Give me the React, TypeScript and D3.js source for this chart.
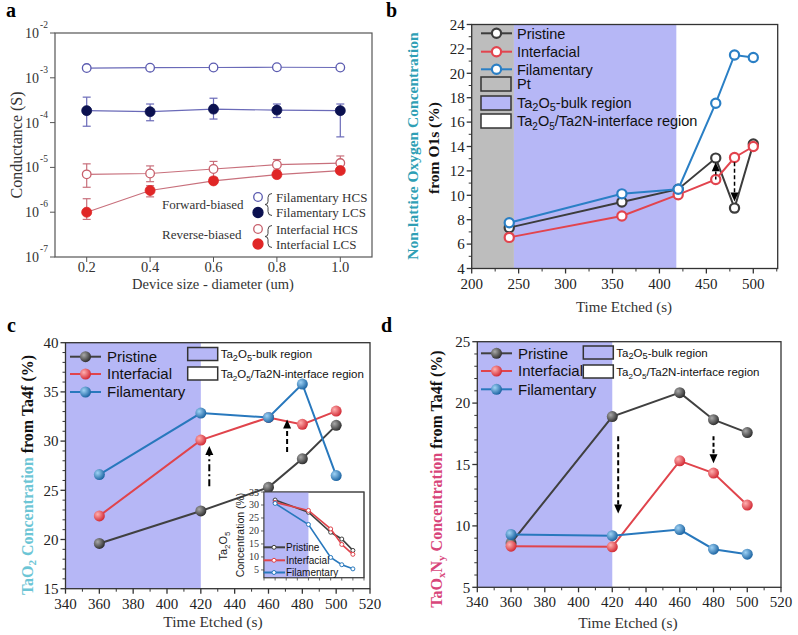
import React from "react";
import * as d3 from "d3";

// ---------------- Panel a data ----------------
const sizes = [0.2, 0.4, 0.6, 0.8, 1.0];
const filamentaryHCS = [1.65e-3, 1.68e-3, 1.7e-3, 1.72e-3, 1.7e-3];
const filamentaryLCS = [1.85e-4, 1.75e-4, 2.0e-4, 1.9e-4, 1.85e-4];
const filamentaryLCSLow = [8.3e-5, 1.1e-4, 1.2e-4, 1.3e-4, 4.8e-5];
const filamentaryLCSHigh = [3.7e-4, 2.6e-4, 3.5e-4, 2.6e-4, 2.6e-4];
const interfacialHCS = [7.0e-6, 7.3e-6, 9.2e-6, 1.15e-5, 1.25e-5];
const interfacialHCSLow = [3.6e-6, 4.8e-6, 6.0e-6, 8.7e-6, 9.0e-6];
const interfacialHCSHigh = [1.2e-5, 1.08e-5, 1.36e-5, 1.5e-5, 1.8e-5];
const interfacialLCS = [1.0e-6, 3.05e-6, 5.0e-6, 6.9e-6, 8.5e-6];
const interfacialLCSLow = [6.9e-7, 2.2e-6, 4.4e-6, 6.0e-6, 7.3e-6];
const interfacialLCSHigh = [2.0e-6, 3.9e-6, 5.7e-6, 7.8e-6, 9.8e-6];
const logTicks = [1e-7, 1e-6, 1e-5, 1e-4, 1e-3, 1e-2];
const logTickExp = ["-7", "-6", "-5", "-4", "-3", "-2"];
const sizeTicks = [0.2, 0.4, 0.6, 0.8, 1.0];

// ---------------- Panel b data ----------------
const timesB = [240, 360, 420, 460, 480, 500];
const pristineB = [7.35, 9.45, 10.5, 13.05, 8.95, 14.2];
const interfacialB = [6.55, 8.3, 10.05, 11.3, 13.1, 14.0];
const filamentaryB = [7.75, 10.12, 10.5, 17.55, 21.5, 21.3];
const ptRegionB = [200, 245];
const bulkRegionB = [245, 418];
const xTicksB = [200, 250, 300, 350, 400, 450, 500];
const yTicksB = [4, 6, 8, 10, 12, 14, 16, 18, 20, 22, 24];

// ---------------- Panel c data ----------------
const timesCD = [360, 420, 460, 480, 500];
const pristineC = [19.6, 22.9, 25.3, 28.2, 31.6];
const interfacialC = [22.4, 30.1, 32.4, 31.7, 33.05];
const filamentaryC = [26.6, 32.85, 32.4, 35.8, 26.5];
const bulkRegionCD = [340, 420];
const xTicksCD = [340, 360, 380, 400, 420, 440, 460, 480, 500, 520];
const yTicksC = [15, 20, 25, 30, 35, 40];
// inset (Ta2O5 concentration)
const pristineInset = [31.9, 27.2, 19.5, 16.9, 12.5];
const interfacialInset = [31.0, 27.9, 20.8, 14.8, 11.0];
const filamentaryInset = [30.6, 22.5, 9.8, 7.0, 5.4];
const yTicksInset = [5, 10, 15, 20, 25, 30, 35];

// ---------------- Panel d data ----------------
const pristineD = [8.6, 18.9, 20.85, 18.65, 17.6];
const interfacialD = [8.35, 8.3, 15.3, 14.3, 11.7];
const filamentaryD = [9.3, 9.2, 9.7, 8.1, 7.7];
const yTicksD = [5, 10, 15, 20, 25];

const serif = "'Liberation Serif','Times New Roman',serif";
const sans = "'Liberation Sans',Arial,sans-serif";
const LAV = "#b6b7f6";
const GRAY = "#bdbdbd";

const colB = { p: "#3c3c3c", i: "#e2444e", f: "#2a7fc5" };
const colC = { p: "#404040", i: "#e0444c", f: "#2878bd" };

function Arrow({ x, y1, y2, dash, w = 1.8 }: any) {
  const dir = y2 < y1 ? -1 : 1;
  const hl = 9, hw = 4;
  const base = y2 - dir * hl;
  return (
    <g>
      <line x1={x} x2={x} y1={y1} y2={base} stroke="#000" strokeWidth={w} strokeDasharray={dash} />
      <polygon points={`${x},${y2} ${x - hw},${base} ${x + hw},${base}`} fill="#000" />
    </g>
  );
}

function Frame({ xs, ys, xTicks, xMinor, yTicks, yMinor, fs, xLabOff, yLabOff, fmtX, fmtY }: any) {
  const [x0, x1] = xs.range();
  const [y0, y1] = ys.range();
  return (
    <g fontFamily={serif} fontSize={fs} fill="#222">
      <rect x={x0} y={y1} width={x1 - x0} height={y0 - y1} fill="none" stroke="#333" strokeWidth={1.3} />
      {xMinor.map((t: number) => (
        <line key={"xm" + t} x1={xs(t)} x2={xs(t)} y1={y0} y2={y0 + 3} stroke="#333" strokeWidth={1} />
      ))}
      {yMinor.map((t: number) => (
        <line key={"ym" + t} x1={x0} x2={x0 - 3} y1={ys(t)} y2={ys(t)} stroke="#333" strokeWidth={1} />
      ))}
      {xTicks.map((t: number) => (
        <g key={"xt" + t}>
          <line x1={xs(t)} x2={xs(t)} y1={y0} y2={y0 + 5} stroke="#333" strokeWidth={1.3} />
          <text x={xs(t)} y={y0 + xLabOff} textAnchor="middle">{fmtX ? fmtX(t) : t}</text>
        </g>
      ))}
      {yTicks.map((t: number) => (
        <g key={"yt" + t}>
          <line x1={x0} x2={x0 - 5} y1={ys(t)} y2={ys(t)} stroke="#333" strokeWidth={1.3} />
          <text x={x0 - yLabOff} y={ys(t)} dy="0.35em" textAnchor="end">{fmtY ? fmtY(t) : t}</text>
        </g>
      ))}
    </g>
  );
}

function range(a: number, b: number, s: number) {
  return d3.range(a, b + s / 2, s);
}

function PanelA() {
  const xs = d3.scaleLinear().domain([0.1, 1.1]).range([55, 372]);
  const ys = d3.scaleLog().domain([1e-7, 1e-2]).range([257, 33]);
  const line = d3.line<[number, number]>().x((d) => xs(d[0])).y((d) => ys(d[1]));
  const fCol = "#6a6ab8", iCol = "#c8707c";
  const series = [
    { v: filamentaryHCS, lc: fCol, open: true, mc: "#5b5bb0" },
    { v: filamentaryLCS, lc: fCol, open: false, mc: "#0b1150", lo: filamentaryLCSLow, hi: filamentaryLCSHigh },
    { v: interfacialHCS, lc: iCol, open: true, mc: "#c8606c", lo: interfacialHCSLow, hi: interfacialHCSHigh },
    { v: interfacialLCS, lc: iCol, open: false, mc: "#e02626", lo: interfacialLCSLow, hi: interfacialLCSHigh },
  ];
  const [x0, x1] = xs.range();
  const legend = [
    { t: "Filamentary HCS", open: true, mc: "#5b5bb0", y: 197 },
    { t: "Filamentary LCS", open: false, mc: "#0b1150", y: 212.5 },
    { t: "Interfacial HCS", open: true, mc: "#c8606c", y: 229 },
    { t: "Interfacial LCS", open: false, mc: "#e02626", y: 244 },
  ];
  const brace = (yc: number, h: number) => {
    const x = 268, t = yc - h / 2, b = yc + h / 2;
    return `M${x + 4},${t} Q${x},${t} ${x},${t + 4} L${x},${yc - 3} Q${x},${yc} ${x - 3},${yc} Q${x},${yc} ${x},${yc + 3} L${x},${b - 4} Q${x},${b} ${x + 4},${b}`;
  };
  return (
    <g>
      <text x={6} y={17} fontFamily={serif} fontWeight="bold" fontSize={20}>a</text>
      <rect x={x0} y={33} width={x1 - x0} height={224} fill="none" stroke="#555" strokeWidth={1.2} />
      {logTicks.map((t, k) => (
        <g key={"lt" + t} fontFamily={serif} fontSize={14}>
          <line x1={x0} x2={x0 - 5} y1={ys(t)} y2={ys(t)} stroke="#555" />
          <text x={x0 - 16} y={ys(t)} dy="0.35em" textAnchor="end" fill="#333">10</text>
          <text x={x0 - 15} y={ys(t) - 5} fontSize={9.5} textAnchor="start" fill="#333">{logTickExp[k]}</text>
        </g>
      ))}
      {sizeTicks.map((t) => (
        <g key={"st" + t} fontFamily={serif} fontSize={14.5}>
          <line x1={xs(t)} x2={xs(t)} y1={257} y2={262} stroke="#555" />
          <text x={xs(t)} y={272} textAnchor="middle" fill="#333">{t.toFixed(1)}</text>
        </g>
      ))}
      <text transform="translate(22,145) rotate(-90)" textAnchor="middle" fontFamily={serif} fontSize={16} fill="#333">Conductance (S)</text>
      <text x={213} y={289} textAnchor="middle" fontFamily={serif} fontSize={14.5} fill="#333">Device size - diameter (um)</text>
      {series.map((s, k) => (
        <g key={"sa" + k}>
          <path d={line(sizes.map((x, i) => [x, s.v[i]]) as any) || ""} fill="none" stroke={s.lc} strokeWidth={1.2} />
          {s.lo && sizes.map((x, i) => (
            <g key={"eb" + i} stroke={s.lc} strokeWidth={1.2}>
              <line x1={xs(x)} x2={xs(x)} y1={ys(s.lo![i])} y2={ys(s.hi![i])} />
              <line x1={xs(x) - 4} x2={xs(x) + 4} y1={ys(s.lo![i])} y2={ys(s.lo![i])} />
              <line x1={xs(x) - 4} x2={xs(x) + 4} y1={ys(s.hi![i])} y2={ys(s.hi![i])} />
            </g>
          ))}
          {sizes.map((x, i) => (
            <circle key={"m" + i} cx={xs(x)} cy={ys(s.v[i])} r={s.open ? 4.3 : 5}
              fill={s.open ? "#fff" : s.mc} stroke={s.mc} strokeWidth={s.open ? 1.3 : 0.8} />
          ))}
        </g>
      ))}
      {legend.map((l) => (
        <g key={l.t}>
          <circle cx={258} cy={l.y} r={l.open ? 4.3 : 5} fill={l.open ? "#fff" : l.mc} stroke={l.mc} strokeWidth={1.3} />
          <text x={276} y={l.y} dy="0.35em" fontFamily={serif} fontSize={13} fill="#333">{l.t}</text>
        </g>
      ))}
      <path d={brace(204.5, 22)} fill="none" stroke="#444" strokeWidth={1} />
      <path d={brace(236.5, 22)} fill="none" stroke="#444" strokeWidth={1} />
      <text x={162} y={204.5} dy="0.35em" fontFamily={serif} fontSize={13} fill="#333">Forward-biased</text>
      <text x={162} y={234.5} dy="0.35em" fontFamily={serif} fontSize={13} fill="#333">Reverse-biased</text>
    </g>
  );
}

function PanelB() {
  const xs = d3.scaleLinear().domain([200, 526]).range([471.7, 777.7]);
  const ys = d3.scaleLinear().domain([4, 24]).range([268.5, 24.5]);
  const line = d3.line<number>().x((_, i) => xs(timesB[i])).y((d) => ys(d));
  const [y0, y1] = ys.range();
  const series = [
    { v: pristineB, c: colB.p, n: "Pristine" },
    { v: interfacialB, c: colB.i, n: "Interfacial" },
    { v: filamentaryB, c: colB.f, n: "Filamentary" },
  ];
  const legY = [33.3, 51.7, 69.3];
  const boxes = [
    { fill: GRAY, y: 84 },
    { fill: LAV, y: 103 },
    { fill: "#fff", y: 121 },
  ];
  return (
    <g>
      <text x={386} y={17} fontFamily={serif} fontWeight="bold" fontSize={20}>b</text>
      <rect x={xs(ptRegionB[0])} y={y1} width={xs(ptRegionB[1]) - xs(ptRegionB[0])} height={y0 - y1} fill={GRAY} />
      <rect x={xs(bulkRegionB[0])} y={y1} width={xs(bulkRegionB[1]) - xs(bulkRegionB[0])} height={y0 - y1} fill={LAV} />
      <Frame xs={xs} ys={ys} xTicks={xTicksB} xMinor={range(225, 525, 50)} yTicks={yTicksB} yMinor={range(5, 23, 2)}
        fs={15} xLabOff={20} yLabOff={7} />
      {series.map((s) => (
        <g key={s.n}>
          <path d={line(s.v) || ""} fill="none" stroke={s.c} strokeWidth={2} />
          {s.v.map((v, i) => (
            <circle key={i} cx={xs(timesB[i])} cy={ys(v)} r={4.6} fill="#fff" stroke={s.c} strokeWidth={2.2} />
          ))}
        </g>
      ))}
      <Arrow x={xs(460)} y1={ys(11.3)} y2={ys(12.7)} dash="3,2" w={1.5} />
      <Arrow x={xs(480)} y1={ys(12.7)} y2={ys(9.5)} dash="4,2.5" w={1.5} />
      {series.map((s, k) => (
        <g key={"lg" + s.n}>
          <line x1={481} x2={512} y1={legY[k]} y2={legY[k]} stroke={s.c} strokeWidth={2} />
          <circle cx={496.5} cy={legY[k]} r={4.6} fill="#fff" stroke={s.c} strokeWidth={2.2} />
          <text x={517} y={legY[k]} dy="0.36em" fontFamily={sans} fontSize={14.5} fill="#111">{s.n}</text>
        </g>
      ))}
      {boxes.map((b, k) => (
        <rect key={"bx" + k} x={481} y={b.y - 7} width={30} height={14} fill={b.fill} stroke="#333" strokeWidth={1.5} />
      ))}
      <g fontFamily={sans} fontSize={14.5} fill="#111">
        <text x={517} y={84} dy="0.36em">Pt</text>
        <text x={517} y={103} dy="0.36em">Ta<tspan fontSize={11} dy={3}>2</tspan><tspan dy={-3}>O</tspan><tspan fontSize={11} dy={3}>5</tspan><tspan dy={-3}>-bulk region</tspan></text>
        <text x={517} y={121} dy="0.36em">Ta<tspan fontSize={10} dy={4}>2</tspan><tspan dy={-4}>O</tspan><tspan fontSize={10} dy={4}>5</tspan><tspan dy={-4}>/Ta2N-interface region</tspan></text>
      </g>
      <text transform="translate(418,146) rotate(-90)" textAnchor="middle" fontFamily={serif} fontWeight="bold" fontSize={15.5} fill="#2f9fb5">Non-lattice Oxygen Concentration</text>
      <text transform="translate(439,148) rotate(-90)" textAnchor="middle" fontFamily={serif} fontWeight="bold" fontSize={15.5} fill="#111">from O1s (%)</text>
      <text x={624} y={312} textAnchor="middle" fontFamily={serif} fontSize={15} fill="#333">Time Etched (s)</text>
    </g>
  );
}

function Sphere({ cx, cy, k, r = 5.5 }: any) {
  return <circle cx={cx} cy={cy} r={r} fill={`url(#sph-${k})`} stroke="none" />;
}

function BoxLegend({ x, y1, y2, fs }: any) {
  return (
    <g>
      <rect x={x} y={y1 - 6.5} width={30} height={13} fill={LAV} stroke="#333" strokeWidth={1.5} />
      <rect x={x} y={y2 - 6.5} width={30} height={13} fill="#fff" stroke="#333" strokeWidth={1.5} />
      <g fontFamily={sans} fontSize={fs} fill="#111">
        <text x={x + 33} y={y1} dy="0.36em">Ta<tspan fontSize={fs * 0.8} dy={2.5}>2</tspan><tspan dy={-2.5}>O</tspan><tspan fontSize={fs * 0.8} dy={2.5}>5</tspan><tspan dy={-2.5}>-bulk region</tspan></text>
        <text x={x + 33} y={y2} dy="0.36em">Ta<tspan fontSize={fs * 0.7} dy={3}>2</tspan><tspan dy={-3}>O</tspan><tspan fontSize={fs * 0.7} dy={3}>5</tspan><tspan dy={-3}>/Ta2N-interface region</tspan></text>
      </g>
    </g>
  );
}

function SeriesLegend({ x, ys, fs }: any) {
  const items = [
    { n: "Pristine", c: colC.p, k: "p" },
    { n: "Interfacial", c: colC.i, k: "i" },
    { n: "Filamentary", c: colC.f, k: "f" },
  ];
  return (
    <g>
      {items.map((it, j) => (
        <g key={it.n}>
          <line x1={x} x2={x + 31} y1={ys[j]} y2={ys[j]} stroke={it.c} strokeWidth={2} />
          <Sphere cx={x + 15.5} cy={ys[j]} k={it.k} />
          <text x={x + 37} y={ys[j]} dy="0.36em" fontFamily={sans} fontSize={fs} fill="#111">{it.n}</text>
        </g>
      ))}
    </g>
  );
}

function PanelC() {
  const xs = d3.scaleLinear().domain([340, 520]).range([65.5, 370]);
  const ys = d3.scaleLinear().domain([15, 40]).range([588.7, 342.7]);
  const line = d3.line<number>().x((_, i) => xs(timesCD[i])).y((d) => ys(d));
  const [y0, y1] = ys.range();
  const series = [
    { v: pristineC, c: colC.p, k: "p" },
    { v: interfacialC, c: colC.i, k: "i" },
    { v: filamentaryC, c: colC.f, k: "f" },
  ];
  // inset
  const ixs = d3.scaleLinear().domain([340, 520]).range([264, 364]);
  const iys = d3.scaleLinear().domain([2, 35]).range([577.7, 492]);
  const iline = d3.line<number>().x((_, i) => ixs(timesCD[i])).y((d) => iys(d));
  const iSeries = [
    { v: pristineInset, c: colC.p, n: "Pristine" },
    { v: interfacialInset, c: colC.i, n: "Interfacial" },
    { v: filamentaryInset, c: colC.f, n: "Filamentary" },
  ];
  const iLegY = [547.3, 560.3, 572.5];
  return (
    <g>
      <text x={7} y={332} fontFamily={serif} fontWeight="bold" fontSize={20}>c</text>
      <rect x={xs(bulkRegionCD[0])} y={y1} width={xs(bulkRegionCD[1]) - xs(bulkRegionCD[0])} height={y0 - y1} fill={LAV} />
      <Frame xs={xs} ys={ys} xTicks={xTicksCD} xMinor={range(350, 510, 20)} yTicks={yTicksC} yMinor={range(16, 39, 1).filter((v) => v % 5 !== 0)}
        fs={15} xLabOff={20} yLabOff={7} />
      {series.map((s) => (
        <g key={s.k}>
          <path d={line(s.v) || ""} fill="none" stroke={s.c} strokeWidth={2} />
          {s.v.map((v, i) => <Sphere key={i} cx={xs(timesCD[i])} cy={ys(v)} k={s.k} />)}
        </g>
      ))}
      <Arrow x={xs(425)} y1={ys(25.4)} y2={ys(29.5)} dash="7,3,2,3" w={2} />
      <Arrow x={xs(471)} y1={ys(28.9)} y2={ys(32.2)} dash="5,3" w={2} />
      <SeriesLegend x={70} ys={[356.7, 374, 392]} fs={15} />
      <BoxLegend x={187.7} y1={354} y2={373.5} fs={11.5} />
      {/* inset */}
      <rect x={264} y={492} width={100} height={85.7} fill="#fff" stroke="#444" strokeWidth={1} />
      <rect x={ixs(bulkRegionCD[0])} y={492} width={ixs(bulkRegionCD[1]) - ixs(bulkRegionCD[0])} height={85.7} fill={LAV} />
      <rect x={264} y={492} width={100} height={85.7} fill="none" stroke="#444" strokeWidth={1} />
      {xTicksCD.map((t) => (
        <line key={"ix" + t} x1={ixs(t)} x2={ixs(t)} y1={577.7} y2={580.5} stroke="#444" strokeWidth={0.8} />
      ))}
      {yTicksInset.map((t) => (
        <g key={"iy" + t}>
          <line x1={264} x2={261} y1={iys(t)} y2={iys(t)} stroke="#444" strokeWidth={0.8} />
          <text x={259} y={iys(t)} dy="0.35em" textAnchor="end" fontFamily={serif} fontSize={10} fill="#333">{t}</text>
        </g>
      ))}
      {iSeries.map((s) => (
        <g key={"is" + s.n}>
          <path d={iline(s.v) || ""} fill="none" stroke={s.c} strokeWidth={1.6} />
          {s.v.map((v, i) => (
            <circle key={i} cx={ixs(timesCD[i])} cy={iys(v)} r={2} fill="#fff" stroke={s.c} strokeWidth={1} />
          ))}
        </g>
      ))}
      {iSeries.map((s, j) => (
        <g key={"il" + s.n}>
          <line x1={263.5} x2={285} y1={iLegY[j]} y2={iLegY[j]} stroke={s.c} strokeWidth={2} />
          <circle cx={274} cy={iLegY[j]} r={2} fill="#fff" stroke={s.c} strokeWidth={1} />
          <text x={286} y={iLegY[j]} dy="0.36em" fontFamily={sans} fontSize={10} fill="#111">{s.n}</text>
        </g>
      ))}
      <text transform="translate(227,546) rotate(-90)" textAnchor="middle" fontFamily={sans} fontSize={11} fill="#222">
        Ta<tspan fontSize={8} dy={2.5}>2</tspan><tspan dy={-2.5}>O</tspan><tspan fontSize={8} dy={2.5}>5</tspan>
      </text>
      <text transform="translate(244,535) rotate(-90)" textAnchor="middle" fontFamily={sans} fontSize={10.5} fill="#222">Concentration (%)</text>
      {/* axis labels */}
      <text transform="translate(33,475) rotate(-90)" textAnchor="middle" fontFamily={serif} fontWeight="bold" fontSize={16}>
        <tspan fill="#6cc5d5">TaO</tspan><tspan fill="#6cc5d5" fontSize={11} dy={3}>2</tspan><tspan fill="#6cc5d5" dy={-3}> Concentration</tspan><tspan fill="#111"> from Ta4f (%)</tspan>
      </text>
      <text x={213} y={627} textAnchor="middle" fontFamily={serif} fontSize={15.5} fill="#333">Time Etched (s)</text>
    </g>
  );
}

function PanelD() {
  const xs = d3.scaleLinear().domain([340, 520]).range([477.3, 781]);
  const ys = d3.scaleLinear().domain([5, 25]).range([587.3, 341.7]);
  const line = d3.line<number>().x((_, i) => xs(timesCD[i])).y((d) => ys(d));
  const [y0, y1] = ys.range();
  const series = [
    { v: pristineD, c: colC.p, k: "p" },
    { v: interfacialD, c: colC.i, k: "i" },
    { v: filamentaryD, c: colC.f, k: "f" },
  ];
  return (
    <g>
      <text x={381} y={332} fontFamily={serif} fontWeight="bold" fontSize={20}>d</text>
      <rect x={xs(bulkRegionCD[0])} y={y1} width={xs(bulkRegionCD[1]) - xs(bulkRegionCD[0])} height={y0 - y1} fill={LAV} />
      <Frame xs={xs} ys={ys} xTicks={xTicksCD} xMinor={range(350, 510, 20)} yTicks={yTicksD} yMinor={range(6, 24, 1).filter((v) => v % 5 !== 0)}
        fs={15} xLabOff={20} yLabOff={7} />
      {series.map((s) => (
        <g key={s.k}>
          <path d={line(s.v) || ""} fill="none" stroke={s.c} strokeWidth={2} />
          {s.v.map((v, i) => <Sphere key={i} cx={xs(timesCD[i])} cy={ys(v)} k={s.k} />)}
        </g>
      ))}
      <Arrow x={xs(423.5)} y1={ys(17.3)} y2={ys(11.0)} dash="5,3" w={2} />
      <Arrow x={xs(480)} y1={ys(17.3)} y2={ys(15.1)} dash="4,2.5" w={2} />
      <SeriesLegend x={481} ys={[353.3, 371, 389.3]} fs={15} />
      <BoxLegend x={583.3} y1={352.5} y2={371.5} fs={11.5} />
      <text transform="translate(442,479) rotate(-90)" textAnchor="middle" fontFamily={serif} fontWeight="bold" fontSize={16}>
        <tspan fill="#d8467a">TaO</tspan><tspan fill="#d8467a" fontSize={11} dy={3}>x</tspan><tspan fill="#d8467a" dy={-3}>N</tspan><tspan fill="#d8467a" fontSize={11} dy={3}>y</tspan><tspan fill="#d8467a" dy={-3}> Concentration</tspan><tspan fill="#111"> from Ta4f (%)</tspan>
      </text>
      <text x={628} y={628} textAnchor="middle" fontFamily={serif} fontSize={15.5} fill="#333">Time Etched (s)</text>
    </g>
  );
}

export default function App() {
  return (
    <svg width={798} height={635} viewBox="0 0 798 635" style={{ position: "absolute", left: 0, top: 0, background: "#fff" }}>
      <defs>
        <radialGradient id="sph-p" cx="35%" cy="35%" r="70%">
          <stop offset="0%" stopColor="#a8a8a8" />
          <stop offset="100%" stopColor="#2a2a2a" />
        </radialGradient>
        <radialGradient id="sph-i" cx="35%" cy="35%" r="70%">
          <stop offset="0%" stopColor="#ffb0b0" />
          <stop offset="100%" stopColor="#d02530" />
        </radialGradient>
        <radialGradient id="sph-f" cx="35%" cy="35%" r="70%">
          <stop offset="0%" stopColor="#9fd2f5" />
          <stop offset="100%" stopColor="#17609f" />
        </radialGradient>
      </defs>
      <rect x={0} y={0} width={798} height={635} fill="#fff" />
      <PanelA />
      <PanelB />
      <PanelC />
      <PanelD />
    </svg>
  );
}
